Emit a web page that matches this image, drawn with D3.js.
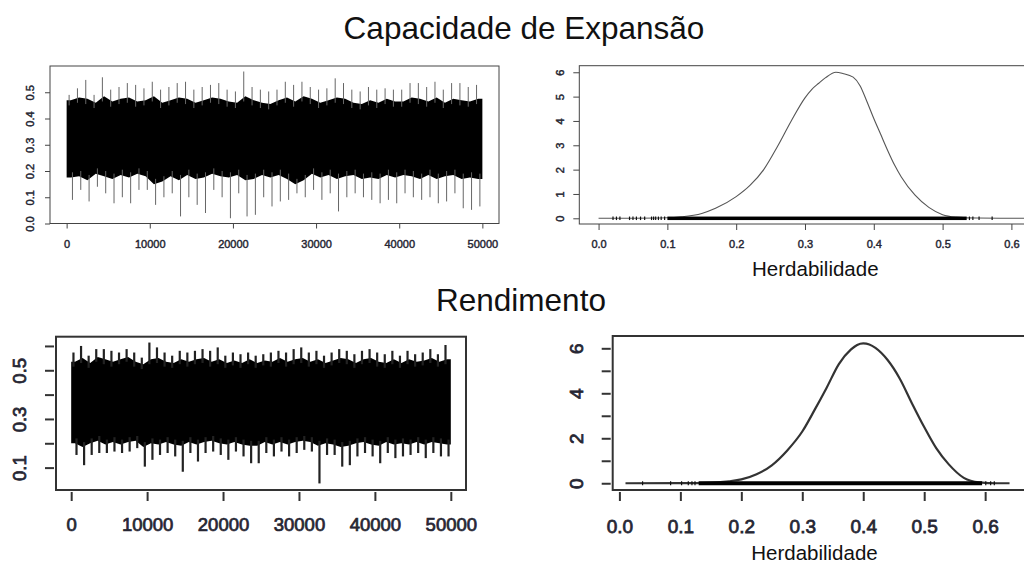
<!DOCTYPE html>
<html>
<head>
<meta charset="utf-8">
<script src="https://cdn.jsdelivr.net/npm/d3@7"></script>
<style>
  body { margin: 0; background: #fff; }
  svg { display: block; font-family: "Liberation Sans", Arial, sans-serif; }
</style>
</head>
<body>
<svg id="chart" width="1024" height="564"></svg>
<script>
// ---- data ----
let titles = ["Capacidade de Expansão", "Rendimento"];
let xLabel = "Herdabilidade";
let iterTicks = [0, 10000, 20000, 30000, 40000, 50000];
let binSize = 1000;

// trace 1 (Capacidade de Expansão): extremes and dense band per 1000 iterations
let capHi = [0.49,0.515,0.547,0.49,0.557,0.51,0.52,0.535,0.528,0.515,0.54,0.51,0.52,0.535,0.54,0.51,0.52,0.528,0.535,0.51,
  0.503,0.579,0.52,0.51,0.503,0.51,0.54,0.528,0.54,0.52,0.51,0.515,0.553,0.535,0.51,0.503,0.52,0.51,0.515,0.51,
  0.51,0.535,0.535,0.52,0.54,0.51,0.535,0.535,0.52,0.528];
let capLo = [0.09,0.128,0.084,0.14,0.115,0.077,0.10,0.077,0.128,0.128,0.071,0.10,0.115,0.027,0.10,0.071,0.04,0.128,0.10,0.02,
  0.115,0.027,0.033,0.10,0.065,0.084,0.09,0.115,0.10,0.128,0.09,0.115,0.046,0.10,0.115,0.10,0.09,0.077,0.09,0.077,
  0.115,0.10,0.09,0.10,0.077,0.084,0.115,0.058,0.052,0.065];
let capCoreHi = [0.47,0.48,0.475,0.46,0.485,0.465,0.475,0.48,0.465,0.47,0.485,0.46,0.47,0.48,0.475,0.46,0.47,0.48,0.475,0.465,
  0.46,0.485,0.47,0.46,0.455,0.47,0.48,0.465,0.485,0.475,0.46,0.47,0.48,0.475,0.46,0.455,0.47,0.46,0.475,0.465,
  0.465,0.48,0.475,0.465,0.48,0.46,0.475,0.47,0.465,0.475];
let capCoreLo = [0.175,0.18,0.165,0.19,0.18,0.17,0.185,0.175,0.19,0.18,0.15,0.16,0.18,0.165,0.185,0.17,0.175,0.19,0.18,0.175,
  0.185,0.165,0.17,0.185,0.175,0.185,0.17,0.15,0.165,0.19,0.175,0.185,0.17,0.18,0.185,0.17,0.175,0.17,0.185,0.175,
  0.185,0.18,0.17,0.185,0.17,0.18,0.185,0.17,0.175,0.17];

// trace 2 (Rendimento)
let renHi = [0.573,0.60,0.56,0.587,0.587,0.58,0.573,0.587,0.573,0.552,0.614,0.594,0.573,0.56,0.58,0.573,0.58,0.587,0.58,0.594,
  0.56,0.573,0.566,0.573,0.56,0.566,0.573,0.58,0.573,0.587,0.594,0.573,0.58,0.56,0.573,0.587,0.58,0.566,0.58,0.587,
  0.573,0.566,0.58,0.56,0.58,0.566,0.573,0.587,0.566,0.604];
let renLo = [0.152,0.11,0.152,0.16,0.16,0.166,0.16,0.166,0.18,0.104,0.132,0.152,0.16,0.146,0.083,0.16,0.125,0.16,0.166,0.152,
  0.132,0.166,0.146,0.118,0.118,0.16,0.146,0.166,0.146,0.16,0.173,0.166,0.035,0.152,0.152,0.104,0.11,0.146,0.16,0.146,
  0.118,0.16,0.139,0.146,0.152,0.16,0.139,0.16,0.146,0.146];
let renCoreHi = [0.535,0.55,0.53,0.555,0.545,0.535,0.545,0.555,0.535,0.525,0.545,0.55,0.535,0.53,0.545,0.535,0.545,0.55,0.535,0.545,
  0.53,0.54,0.53,0.545,0.53,0.54,0.535,0.55,0.535,0.545,0.55,0.535,0.545,0.53,0.54,0.55,0.545,0.53,0.545,0.55,
  0.535,0.53,0.545,0.53,0.545,0.535,0.54,0.55,0.535,0.545];
let renCoreLo = [0.2,0.185,0.2,0.21,0.195,0.205,0.195,0.205,0.21,0.185,0.2,0.195,0.205,0.195,0.19,0.205,0.195,0.205,0.21,0.2,
  0.195,0.205,0.195,0.19,0.19,0.205,0.195,0.205,0.195,0.205,0.21,0.205,0.19,0.2,0.195,0.185,0.19,0.2,0.205,0.195,
  0.19,0.205,0.195,0.2,0.195,0.205,0.195,0.205,0.2,0.195];

// densities
let capDensX = [0.0,0.05,0.1,0.12,0.15,0.17,0.2,0.22,0.24,0.26,0.28,0.30,0.31,0.32,0.33,0.345,0.355,0.37,0.38,0.39,
  0.40,0.41,0.42,0.43,0.44,0.46,0.48,0.50,0.52,0.55,0.6,0.65];
let capDensY = [0,0.003,0.02,0.06,0.2,0.41,0.89,1.35,2.0,2.95,4.0,4.95,5.3,5.55,5.78,6.0,5.95,5.8,5.45,4.8,
  4.1,3.45,2.8,2.2,1.7,0.95,0.45,0.15,0.05,0.01,0,0];
let capRugDense = [0.1, 0.535];
let capRugSparse = [0.021,0.026,0.031,0.045,0.05,0.055,0.061,0.067,0.077,0.08,0.083,0.087,0.091,0.096,0.539,0.544,0.553,0.572];

let renDensX = [0.01,0.1,0.15,0.18,0.2,0.225,0.25,0.275,0.3,0.32,0.34,0.36,0.38,0.39,0.40,0.41,0.42,0.44,0.46,0.48,
  0.50,0.52,0.54,0.565,0.59,0.62,0.64];
let renDensY = [0,0.005,0.03,0.09,0.17,0.4,0.8,1.45,2.3,3.25,4.25,5.3,5.95,6.15,6.22,6.17,6.02,5.48,4.65,3.55,
  2.5,1.55,0.85,0.24,0.04,0,0];
let renRugDense = [0.13, 0.595];
let renRugSparse = [0.038,0.084,0.102,0.113,0.119,0.124,0.601,0.609,0.615];

let capTraceTicks = [0, 0.1, 0.2, 0.3, 0.4, 0.5];
let renTraceTicks = [0.1, 0.2, 0.3, 0.4, 0.5, 0.6];
let renTraceLabels = [0.1, 0.3, 0.5];
let densXTicks = [0, 0.1, 0.2, 0.3, 0.4, 0.5, 0.6];
let capDensTicks = [0, 1, 2, 3, 4, 5, 6];
let renDensLabels = [0, 2, 4, 6];

let svg = d3.select("#chart");
let labelColor = "#262633";
let fontFamily = "'Liberation Sans', Arial, sans-serif";

function bins(hi, lo, coreHi, coreLo) {
    return hi.map((h, i) => ({
        iter: i * binSize, hi: h, lo: lo[i], coreHi: coreHi[i], coreLo: coreLo[i]
    }));
}

function drawAxes(g, cfg, xScale, yScale) {
    let { box, xTicks, yTicks, yLabels, fmtX, fmtY, font, tickLen, gap, yLabelDist, xLabelDist, frame } = cfg;

    let axisX = d3.axisBottom(xScale)
        .tickValues(xTicks)
        .tickSize(tickLen)
        .tickSizeOuter(0)
        .tickFormat(fmtX);
    let gx = g.append("g")
        .attr("transform", `translate(0,${box.y1 + gap})`)
        .call(axisX);

    let axisY = d3.axisLeft(yScale)
        .tickValues(yTicks)
        .tickSize(tickLen)
        .tickSizeOuter(0)
        .tickFormat(d => yLabels.includes(d) ? fmtY(d) : "");
    let gy = g.append("g")
        .attr("transform", `translate(${box.x0 - gap},0)`)
        .call(axisY);

    [gx, gy].forEach(a => {
        a.attr("font-family", fontFamily).attr("font-size", font);
        a.select(".domain").remove();
        a.selectAll("line").attr("stroke", frame.color).attr("stroke-width", frame.width);
        // the labels in the picture are heavy and slightly blurred: thicken regular glyphs with a stroke
        a.selectAll("text")
            .attr("fill", labelColor)
            .attr("stroke", labelColor)
            .attr("stroke-width", font * 0.04)
            .style("font-family", fontFamily)
            .style("font-size", font + "px");
    });

    gx.selectAll("text")
        .attr("y", xLabelDist - gap + font * 0.35)
        .attr("dy", 0);

    gy.selectAll("text")
        .attr("transform", "rotate(-90)")
        .attr("text-anchor", "middle")
        .attr("x", 0)
        .attr("dy", 0)
        .attr("y", -(yLabelDist - gap - font * 0.35));

    g.append("rect")
        .attr("x", box.x0).attr("y", box.y0)
        .attr("width", box.x1 - box.x0).attr("height", box.y1 - box.y0)
        .attr("fill", "none")
        .attr("stroke", frame.color)
        .attr("stroke-width", frame.width);
}

function drawTrace(cfg) {
    let { box, xDomain, yDomain, data, spike } = cfg;
    let g = svg.append("g");
    let x = d3.scaleLinear().domain(xDomain).range([box.x0, box.x1]);
    let y = d3.scaleLinear().domain(yDomain).range([box.y1, box.y0]);

    let rows = bins(data.hi, data.lo, data.coreHi, data.coreLo);
    let n = rows.length;

    // dense band of the chain: ragged edges through each bin, closed at iteration 0 and 50000
    let band = [{ iter: 0, coreHi: rows[0].coreHi, coreLo: rows[0].coreLo }]
        .concat(rows.map(d => ({ iter: d.iter + binSize / 2, coreHi: d.coreHi, coreLo: d.coreLo })))
        .concat([{ iter: n * binSize, coreHi: rows[n - 1].coreHi, coreLo: rows[n - 1].coreLo }]);
    g.append("path")
        .datum(band)
        .attr("fill", "#000")
        .attr("d", d3.area()
            .x(d => x(d.iter))
            .y0(d => y(d.coreLo))
            .y1(d => y(d.coreHi)));

    // excursions of the chain beyond the band
    g.selectAll(".up").data(rows).enter().append("line")
        .attr("x1", d => x(d.iter + binSize * 0.3)).attr("x2", d => x(d.iter + binSize * 0.3))
        .attr("y1", d => y(d.coreHi - 0.02)).attr("y2", d => y(d.hi))
        .attr("stroke", spike.color).attr("stroke-width", spike.width);
    g.selectAll(".down").data(rows).enter().append("line")
        .attr("x1", d => x(d.iter + binSize * 0.7)).attr("x2", d => x(d.iter + binSize * 0.7))
        .attr("y1", d => y(d.coreLo + 0.02)).attr("y2", d => y(d.lo))
        .attr("stroke", spike.color).attr("stroke-width", spike.width);

    drawAxes(g, cfg, x, y);
}

function drawDensity(cfg) {
    let { box, xDomain, yDomain, dx, dy, rugDense, rugSparse, curve, rugH } = cfg;
    let g = svg.append("g");
    let x = d3.scaleLinear().domain(xDomain).range([box.x0, box.x1]);
    let y = d3.scaleLinear().domain(yDomain).range([box.y1, box.y0]);
    let pts = dx.map((v, i) => [v, dy[i]]);

    g.append("path")
        .datum(pts)
        .attr("fill", "none")
        .attr("stroke", curve.color)
        .attr("stroke-width", curve.width)
        .attr("d", d3.line().curve(d3.curveMonotoneX).x(d => x(d[0])).y(d => y(d[1])));

    // rug of the sampled values
    g.append("rect")
        .attr("x", x(rugDense[0]))
        .attr("width", x(rugDense[1]) - x(rugDense[0]))
        .attr("y", y(0) - rugH / 2)
        .attr("height", rugH)
        .attr("fill", "#000");
    g.selectAll(".rug").data(rugSparse).enter().append("line")
        .attr("x1", d => x(d)).attr("x2", d => x(d))
        .attr("y1", y(0) - rugH / 2).attr("y2", y(0) + rugH / 2)
        .attr("stroke", "#111").attr("stroke-width", 1.2);

    drawAxes(g, cfg, x, y);

    g.append("text")
        .attr("x", x(cfg.labelAt))
        .attr("y", cfg.labelY)
        .attr("text-anchor", "middle")
        .style("font-size", cfg.labelFont + "px")
        .attr("fill", "#111")
        .text(xLabel);
}

// titles
svg.append("text").attr("x", 524).attr("y", 39).attr("text-anchor", "middle")
    .style("font-size", "31.5px").attr("fill", "#111").text(titles[0]);
svg.append("text").attr("x", 521).attr("y", 311).attr("text-anchor", "middle")
    .style("font-size", "31.5px").attr("fill", "#111").text(titles[1]);

let fmtIter = d3.format("d");
let fmt1 = d3.format(".1f");

drawTrace({
    box: { x0: 50, x1: 499, y0: 66, y1: 223.5 },
    xDomain: [-2000, 52000], yDomain: [0, 0.6],
    data: { hi: capHi, lo: capLo, coreHi: capCoreHi, coreLo: capCoreLo },
    spike: { color: "#666", width: 1 },
    xTicks: iterTicks, yTicks: capTraceTicks, yLabels: capTraceTicks,
    fmtX: fmtIter, fmtY: fmt1, font: 11, tickLen: 5, gap: 0,
    yLabelDist: 20, xLabelDist: 20.5, frame: { color: "#444", width: 1 }
});

drawDensity({
    box: { x0: 579.3, x1: 1052, y0: 65.7, y1: 224 },
    xDomain: [-0.028, 0.659], yDomain: [-0.234, 6.27],
    dx: capDensX, dy: capDensY, rugDense: capRugDense, rugSparse: capRugSparse, rugH: 3.5,
    curve: { color: "#555", width: 1.1 },
    xTicks: densXTicks, yTicks: capDensTicks, yLabels: capDensTicks,
    fmtX: fmt1, fmtY: d3.format("d"), font: 11, tickLen: 6, gap: 0,
    yLabelDist: 19, xLabelDist: 20.3, frame: { color: "#444", width: 1 },
    labelAt: 0.315, labelY: 276, labelFont: 20.5
});

drawTrace({
    box: { x0: 56, x1: 466, y0: 336.7, y1: 490 },
    xDomain: [-2000, 52000], yDomain: [0.008, 0.638],
    data: { hi: renHi, lo: renLo, coreHi: renCoreHi, coreLo: renCoreLo },
    spike: { color: "#222", width: 2.2 },
    xTicks: iterTicks, yTicks: renTraceTicks, yLabels: renTraceLabels,
    fmtX: fmtIter, fmtY: fmt1, font: 18.5, tickLen: 9, gap: 2,
    yLabelDist: 36, xLabelDist: 35, frame: { color: "#333", width: 2 }
});

drawDensity({
    box: { x0: 612.7, x1: 1026, y0: 336, y1: 490 },
    xDomain: [-0.011, 0.667], yDomain: [-0.3, 6.547],
    dx: renDensX, dy: renDensY, rugDense: renRugDense, rugSparse: renRugSparse, rugH: 4,
    curve: { color: "#333", width: 2.2 },
    xTicks: densXTicks, yTicks: capDensTicks, yLabels: renDensLabels,
    fmtX: fmt1, fmtY: d3.format("d"), font: 19, tickLen: 9, gap: 2,
    yLabelDist: 36, xLabelDist: 36.7, frame: { color: "#333", width: 2 },
    labelAt: 0.32, labelY: 560, labelFont: 20.5
});
</script>
</body>
</html>
